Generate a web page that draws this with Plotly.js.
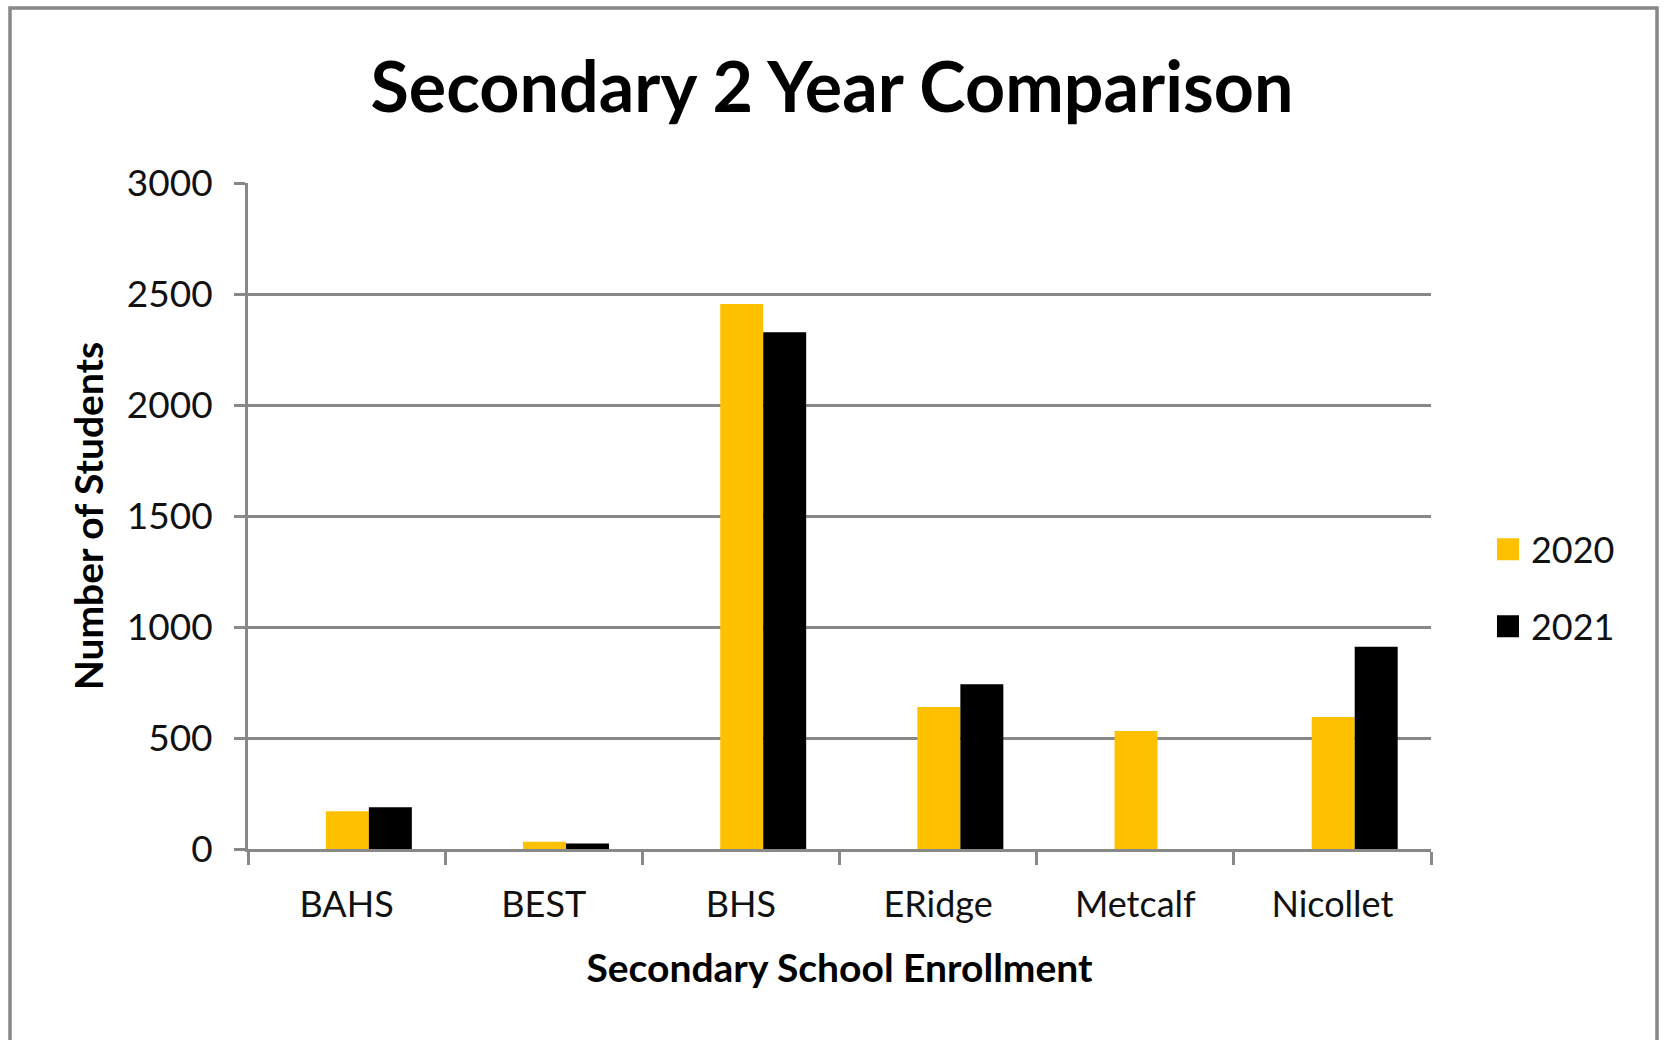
<!DOCTYPE html>
<html>
<head>
<meta charset="utf-8">
<script src="https://cdn.plot.ly/plotly-3.0.1.min.js"></script>
<style>
  html, body { margin: 0; padding: 0; background: #ffffff; }
  #chart { width: 1664px; height: 1040px; }
</style>
</head>
<body>
<div id="chart"></div>
<script>
// ---- Data ----
const schools = ["BAHS", "BEST", "BHS", "ERidge", "Metcalf", "Nicollet"];
const students2020 = [170, 33, 2455, 640, 531, 595];
const students2021 = [188, 25, 2328, 742, 0, 911];
const seriesNames = ["2020", "2021"];
const yTicks = [0, 500, 1000, 1500, 2000, 2500, 3000];

const FONT = "Lato, 'Liberation Sans', sans-serif";
const GRID = "#888888";

const W = 1664, H = 1040;
const M = { l: 248, r: 233, t: 183, b: 191 };

const traces = [
  {
    type: "bar", name: seriesNames[0], x: schools, y: students2020,
    marker: { color: "#FFC000", line: { width: 0 } },
    width: 0.218, offset: -0.105, legendgroup: "a",
    hoverinfo: "x+y+name"
  },
  {
    type: "bar", name: seriesNames[1], x: schools, y: students2021,
    marker: { color: "#000000", line: { width: 0 } },
    width: 0.218, offset: 0.113, legendgroup: "b",
    hoverinfo: "x+y+name"
  }
];

const plotBottom = H - M.b;

const layout = {
  width: W, height: H,
  margin: M,
  paper_bgcolor: "#ffffff",
  plot_bgcolor: "#ffffff",
  font: { family: FONT, color: "#111111", size: 36 },
  title: {
    text: "<b>Secondary 2 Year Comparison</b>",
    font: { family: FONT, size: 70, color: "#000000" },
    x: 0.5, xref: "container", xanchor: "center",
    y: 1 - 87 / H, yref: "container", yanchor: "middle"
  },
  barmode: "group",
  showlegend: true,
  legend: {
    x: 1.0507, xanchor: "left", xref: "paper",
    y: 0.392, yanchor: "middle",
    font: { family: FONT, size: 36, color: "#111111" },
    tracegroupgap: 27,
    bgcolor: "rgba(0,0,0,0)"
  },
  xaxis: {
    type: "category",
    showline: true, linecolor: GRID, linewidth: 3,
    ticks: "outside", tickson: "boundaries", ticklen: 13, tickwidth: 3, tickcolor: GRID,
    ticklabelstandoff: 22,
    showgrid: false, zeroline: false,
    tickfont: { family: FONT, size: 36, color: "#111111" },
    title: {
      text: "<b>Secondary School Enrollment</b>",
      font: { family: FONT, size: 39, color: "#000000" },
      standoff: 31
    }
  },
  yaxis: {
    range: [0, 3000],
    tickvals: yTicks,
    showline: true, linecolor: GRID, linewidth: 3,
    ticks: "outside", ticklen: 11, tickwidth: 3, tickcolor: GRID,
    ticklabelstandoff: 14,
    showgrid: true, gridcolor: GRID, gridwidth: 3,
    zeroline: false,
    tickfont: { family: FONT, size: 37, color: "#111111" },
    title: {
      text: "<b>Number of Students</b>",
      font: { family: FONT, size: 39, color: "#000000" },
      standoff: 12
    }
  },
  // outer frame (pixel offsets relative to the plot-area bottom-left corner)
  shapes: [{
    type: "rect", xref: "paper", yref: "paper",
    xsizemode: "pixel", ysizemode: "pixel",
    xanchor: 0, yanchor: 0,
    x0: 10 - M.l, x1: 1657 - M.l,
    y0: plotBottom - 8, y1: plotBottom - 1100,
    line: { color: GRID, width: 3.5 },
    fillcolor: "rgba(0,0,0,0)", layer: "above"
  }]
};

Plotly.newPlot("chart", traces, layout, { displayModeBar: false, staticPlot: true }).then(function () {
  // enlarge the legend swatches to match the reference's square markers
  document.querySelectorAll("#chart .legend .legendpoints path").forEach(function (p) {
    p.setAttribute("d", "M11,11H-11V-11H11Z");
    p.setAttribute("transform", "translate(17,0)");
  });
});
</script>
</body>
</html>
